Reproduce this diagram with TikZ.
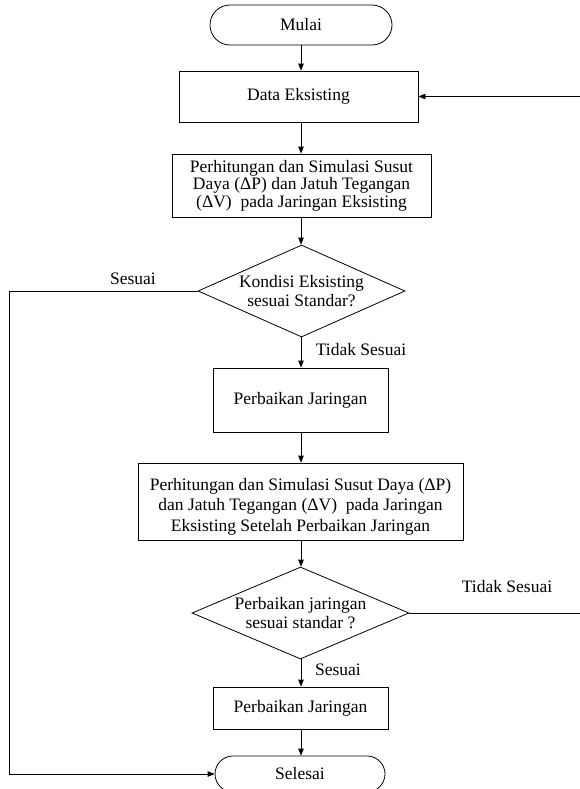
\documentclass[tikz,border=0pt]{standalone}
\usepackage{fontspec}
\setmainfont{Liberation Serif}
\usetikzlibrary{shapes.geometric,arrows.meta}

\begin{document}
\begin{tikzpicture}[x=1pt,y=-1pt,
  base/.style={draw=black, line width=0.8pt, font=\fontsize{17.5}{17.5}\selectfont, align=center, inner sep=0pt},
  procbox/.style={base, rectangle},
  termbox/.style={base, rectangle},
  decbox/.style={base, diamond, aspect=2.3, font=\fontsize{17.5}{19.5}\selectfont},
  conn/.style={line width=0.8pt, -{Triangle[length=7pt,width=5.5pt]}},
  plain/.style={line width=0.8pt},
  lbl/.style={font=\fontsize{17.5}{17.5}\selectfont, inner sep=0pt}
]
\useasboundingbox (0,0) rectangle (580,789);
\clip (0,0) rectangle (580,789);

\coordinate (ax) at (301,0);

\node[termbox, rounded corners=20pt, minimum width=182pt, minimum height=40pt] (mulai) at (301,25) {Mulai};
\node[procbox, minimum width=239pt, minimum height=51pt] (data) at (298.5,96.5) {Data Eksisting};
\node[procbox, minimum width=259pt, minimum height=63pt] (hit1) at (301.5,185.5)
  {Perhitungan dan Simulasi Susut\\Daya (ΔP) dan Jatuh Tegangan\\(ΔV)\ \ pada Jaringan Eksisting};
\node[decbox, minimum width=207pt, minimum height=92pt] (d1) at (301.5,291) {Kondisi Eksisting\\sesuai Standar?};
\node[procbox, minimum width=175pt, minimum height=64pt] (fix1) at (300.5,400) {Perbaikan Jaringan};
\node[procbox, minimum width=325pt, minimum height=77pt] (hit2) at (300.5,501.5) {};
\node[align=center, inner sep=0pt, font=\fontsize{17.5}{20.5}\selectfont] (hit2t) at (300.5,506.5)
  {Perhitungan dan Simulasi Susut Daya (ΔP)\\dan Jatuh Tegangan (ΔV)\ \ pada Jaringan\\Eksisting Setelah Perbaikan Jaringan};
\node[decbox, minimum width=217pt, minimum height=92pt] (d2) at (300.5,613) {Perbaikan jaringan\\sesuai standar ?};
\node[procbox, minimum width=175pt, minimum height=42pt] (fix2) at (300.5,708) {Perbaikan Jaringan};
\node[termbox, rounded corners=18pt, minimum width=170pt, minimum height=36pt] (selesai) at (300,774) {Selesai};

\draw[conn] (mulai.south -| ax) -- (data.north -| ax);
\draw[conn] (data.south -| ax) -- (hit1.north -| ax);
\draw[conn] (hit1.south -| ax) -- (d1.north -| ax);
\draw[conn] (d1.south -| ax) -- (fix1.north -| ax);
\draw[conn] (fix1.south -| ax) -- (hit2.north -| ax);
\draw[conn] (hit2.south -| ax) -- (d2.north -| ax);
\draw[conn] (d2.south -| ax) -- (fix2.north -| ax);
\draw[conn] (fix2.south -| ax) -- (selesai.north -| ax);

\coordinate (lt) at (9,291);
\draw[conn] (d1.west) -- (lt) |- (selesai.west);

\coordinate (rb) at (580,613);
\coordinate (rt) at (580,96.5);
\draw[plain] (d2.east) -- (rb);
\draw[conn] (rt) -- (data.east);

\node[lbl] (l1) at (133,279) {Sesuai};
\node[lbl] (l2) at (361,350) {Tidak Sesuai};
\node[lbl] (l3) at (507,587) {Tidak Sesuai};
\node[lbl] (l4) at (338,670) {Sesuai};
\end{tikzpicture}
\end{document}
